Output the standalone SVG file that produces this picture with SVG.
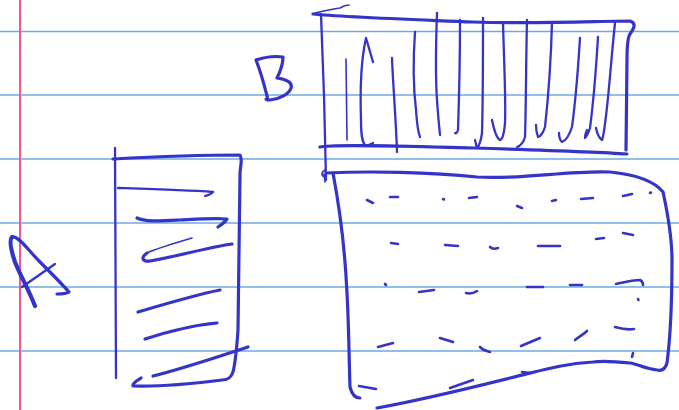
<svg xmlns="http://www.w3.org/2000/svg" width="679" height="410" viewBox="0 0 679 410">
<style>
.rule{stroke:#6fa8e6;stroke-width:1.3;fill:none}
.margin{stroke:#f0549e;stroke-width:2;fill:none}
.ink{stroke:#3434c8;fill:none;stroke-linecap:round;stroke-linejoin:round}
.w4{stroke-width:4.2}
.w3{stroke-width:3.2}
.w2{stroke-width:2.3}
.w1{stroke-width:1.6}
.d{stroke-width:2.6}
</style>
<rect width="679" height="410" fill="#ffffff"/>
<g id="paper">
<line class="rule" x1="0" y1="31.5" x2="679" y2="31.5"/>
<line class="rule" x1="0" y1="95" x2="679" y2="95"/>
<line class="rule" x1="0" y1="159" x2="679" y2="159"/>
<line class="rule" x1="0" y1="223" x2="679" y2="223"/>
<line class="rule" x1="0" y1="287" x2="679" y2="287"/>
<line class="rule" x1="0" y1="351" x2="679" y2="351"/>
<line class="margin" x1="20" y1="0" x2="20" y2="410"/>
</g>
<g id="letterA" class="ink">
<path class="w4" d="M35,306 C28,288 20,275 15,262 C11,250 9,240 12,237"/>
<path class="w3" d="M12,237 C18,235 28,250 40,262 C52,274 62,284 69,292 C66,294 61,294 57,294"/>
<line class="w2" x1="22" y1="287" x2="55" y2="264"/>
</g>
<g id="letterB" class="ink">
<path class="w3" d="M256,60 C262,75 265,88 268,100 M256,60 C265,57 276,56 283,57 C283,66 280,72 277,78 C285,79 293,82 291,88 C289,94 280,99 270,100 C268,100 266,100 266,99"/>
</g>
<g id="boxA" class="ink">
<path class="w2" d="M115,148 L116,378"/>
<path class="w3" d="M113,159 C150,157 200,155 240,155 C243,160 240,165 240,175 L238,330 C237,345 236,360 233,372 C231,378 228,380 222,380 C190,384 160,387 133,386 C132,383 138,380 141,378"/>
<path class="w2" d="M118,188 C150,189 185,190 213,192 C212,194 208,195 205,196"/>
<path class="w3" d="M137,218 C145,222 160,221 180,220 C200,219 215,218 227,219 C225,222 221,225 218,227"/>
<path class="w1" d="M192,238 C175,243 155,249 147,253"/>
<path class="w3" d="M147,253 C140,258 143,262 150,261 C175,257 205,248 232,244"/>
<path class="w3" d="M138,312 C165,304 195,295 220,290"/>
<path class="w3" d="M145,339 C170,331 195,325 217,323"/>
<path class="w3" d="M153,376 C185,368 220,356 248,347"/>
</g>
<g id="boxB" class="ink">
<path class="w1" d="M313,14 C320,11 335,9 340,8 C343,6 346,5 349,5"/>
<path class="w3" d="M313,14 C340,17 400,19 473,22 C540,24 600,21 630,21 C636,23 635,27 630,34 C628,37 627,45 627,60 L626,150"/>
<path class="w2" d="M321,14 C323,60 325,120 326,180"/>
<path class="w3" d="M320,147 C330,144 400,146 473,148 C540,150 600,152 627,154"/>
<path class="w1" d="M346,59 L347,140"/>
<path class="w2" d="M373,62 L366,38 C361,60 360,90 361,120 C361,135 362,143 366,146 C369,145 371,144 373,143"/>
<path class="w2" d="M392,58 C393,85 396,120 397,152"/>
<path class="w2" d="M415,32 C413,60 413,85 416,110 C417,125 418,132 420,137"/>
<path class="w2" d="M437,13 C436,40 435,70 437,100 C438,115 439,125 440,135"/>
<path class="w2" d="M460,20 C460,60 459,100 458,130 C457,133 456,134 455,133"/>
<path class="w2" d="M483,18 C483,60 483,100 482,133 C481,140 479,146 477,148 C476,146 476,143 475,140"/>
<path class="w2" d="M503,23 C504,60 506,100 505,123 C504,135 502,140 500,140 C496,138 494,130 492,120"/>
<path class="w2" d="M527,20 C526,60 526,110 525,137 C523,144 520,146 517,147"/>
<path class="w2" d="M552,22 C551,60 548,100 545,127 C543,133 540,137 538,137 C537,134 536,130 536,125"/>
<path class="w2" d="M580,38 C578,70 575,105 572,127 C569,136 565,141 562,142 C560,140 559,136 559,133"/>
<path class="w2" d="M598,37 C596,70 593,105 590,128 C588,134 586,137 585,138 C585,135 586,132 587,130"/>
<path class="w2" d="M615,23 C612,50 610,80 607,107 C605,125 604,135 602,140 C599,138 597,133 596,128"/>
</g>
<g id="boxC" class="ink">
<path class="w1" d="M325,170 C321,172 321,176 325,177 M324,174 L325,182"/>
<path class="w3" d="M326,173 C370,171 430,172 477,177 C520,180 570,170 610,172 C640,175 655,182 663,192 C668,215 672,240 672,260 C672,300 670,340 667,363 C665,370 661,371 657,370 C645,369 638,364 630,363 C610,361 600,361 593,362 C560,364 540,371 510,378 C470,388 420,400 377,408"/>
<path class="w3" d="M333,173 C340,210 345,250 347,293 C349,330 349,360 350,387 C352,395 356,398 360,398"/>
<g class="d">
<path d="M367,200 L373,203"/><path d="M390,197 L398,197"/><path d="M443,199 L444,199.5"/><path d="M469,198 L477,197"/>
<path d="M517,206 L522,208"/><path d="M552,201 L556,200"/><path d="M581,199 L593,198"/><path d="M623,196 L632,194"/><path d="M650,193 L651,192.5"/>
<path d="M391,243 L398,244"/><path d="M445,245 L458,246"/><path d="M490,247 C492,249 495,249 498,248"/><path d="M538,246 L560,246"/><path d="M596,239 L604,238"/><path d="M623,233 L633,235"/>
<path d="M385,284 L386,285"/><path d="M419,292 L434,290"/><path d="M466,293 C470,294 474,293 477,291"/><path d="M527,287 L543,287"/><path d="M570,285 L582,285"/><path d="M616,284 C625,282 632,280 640,280 C642,281 643,283 643,285"/><path d="M638,299 L638.5,300"/>
<path d="M378,347 L393,343"/><path d="M440,338 L453,342"/><path d="M480,347 C483,350 486,351 490,352"/><path d="M521,346 L540,338"/><path d="M575,340 C580,336 584,334 587,331"/><path d="M615,327 C622,329 628,330 634,329"/><path d="M633,353 L632,357"/>
<path d="M359,386 L376,389"/><path d="M450,388 L473,380"/><path d="M522,372 L530,373"/>
</g>
</g>
</svg>
